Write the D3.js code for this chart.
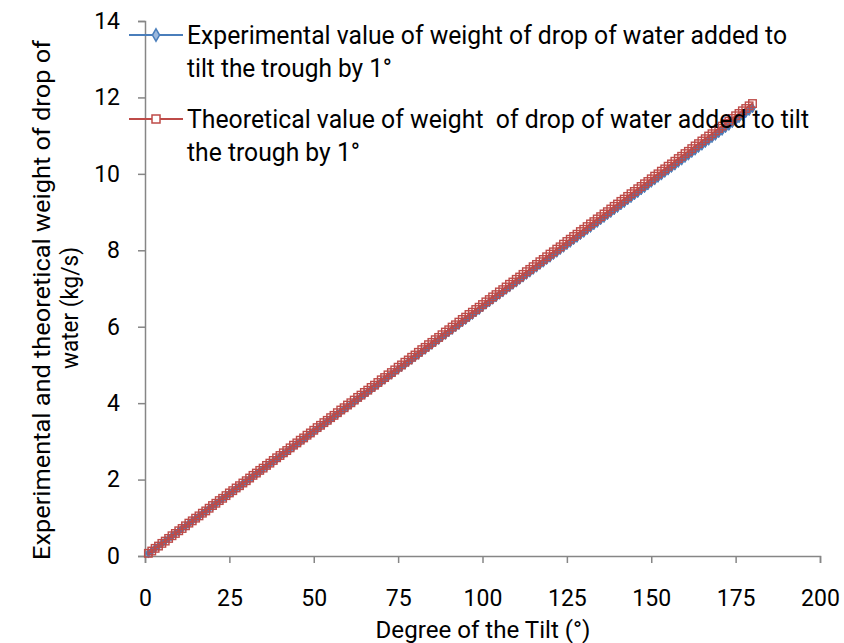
<!DOCTYPE html>
<html><head><meta charset="utf-8">
<script src="https://cdn.jsdelivr.net/npm/d3@7"></script>
<style>
html,body{margin:0;padding:0;background:#fff;}
svg{display:block;}
text{fill:#000;}
</style></head>
<body>
<svg id="chart" width="844" height="643"></svg>
<script>
// ---- data ----
const degrees = d3.range(1, 181); // tilt angles 1..180
const experimental = [
0.07,0.13,0.20,0.26,0.33,0.39,0.46,0.52,0.59,0.65,0.72,0.78,0.85,0.91,0.98,1.04,1.11,1.17,1.24,1.30,
1.37,1.43,1.50,1.56,1.63,1.69,1.76,1.82,1.89,1.95,2.02,2.08,2.15,2.21,2.28,2.34,2.41,2.47,2.54,2.60,
2.67,2.73,2.80,2.86,2.93,2.99,3.06,3.12,3.19,3.26,3.32,3.39,3.45,3.52,3.58,3.65,3.71,3.78,3.84,3.91,
3.97,4.04,4.10,4.17,4.23,4.30,4.36,4.43,4.49,4.56,4.62,4.69,4.75,4.82,4.88,4.95,5.01,5.08,5.14,5.21,
5.27,5.34,5.40,5.47,5.53,5.60,5.66,5.73,5.79,5.86,5.92,5.99,6.05,6.12,6.18,6.25,6.31,6.38,6.44,6.51,
6.58,6.64,6.71,6.77,6.84,6.90,6.97,7.03,7.10,7.16,7.23,7.29,7.36,7.42,7.49,7.55,7.62,7.68,7.75,7.81,
7.88,7.94,8.01,8.07,8.14,8.20,8.27,8.33,8.40,8.46,8.53,8.59,8.66,8.72,8.79,8.85,8.92,8.98,9.05,9.11,
9.18,9.24,9.31,9.37,9.44,9.50,9.57,9.63,9.70,9.77,9.83,9.90,9.96,10.03,10.09,10.16,10.22,10.29,10.35,10.42,
10.48,10.55,10.61,10.68,10.74,10.81,10.87,10.94,11.00,11.07,11.13,11.20,11.26,11.33,11.39,11.46,11.52,11.59,11.65,11.72
];
const theoretical = [
0.07,0.13,0.20,0.26,0.33,0.39,0.46,0.53,0.59,0.66,0.72,0.79,0.86,0.92,0.99,1.05,1.12,1.18,1.25,1.32,
1.38,1.45,1.51,1.58,1.65,1.71,1.78,1.84,1.91,1.97,2.04,2.11,2.17,2.24,2.30,2.37,2.43,2.50,2.57,2.63,
2.70,2.76,2.83,2.90,2.96,3.03,3.09,3.16,3.22,3.29,3.36,3.42,3.49,3.55,3.62,3.68,3.75,3.82,3.88,3.95,
4.01,4.08,4.15,4.21,4.28,4.34,4.41,4.47,4.54,4.61,4.67,4.74,4.80,4.87,4.94,5.00,5.07,5.13,5.20,5.26,
5.33,5.40,5.46,5.53,5.59,5.66,5.72,5.79,5.86,5.92,5.99,6.05,6.12,6.19,6.25,6.32,6.38,6.45,6.51,6.58,
6.65,6.71,6.78,6.84,6.91,6.97,7.04,7.11,7.17,7.24,7.30,7.37,7.44,7.50,7.57,7.63,7.70,7.76,7.83,7.90,
7.96,8.03,8.09,8.16,8.23,8.29,8.36,8.42,8.49,8.55,8.62,8.69,8.75,8.82,8.88,8.95,9.01,9.08,9.15,9.21,
9.28,9.34,9.41,9.48,9.54,9.61,9.67,9.74,9.80,9.87,9.94,10.00,10.07,10.13,10.20,10.26,10.33,10.40,10.46,10.53,
10.59,10.66,10.73,10.79,10.86,10.92,10.99,11.05,11.12,11.19,11.25,11.32,11.38,11.45,11.52,11.58,11.65,11.71,11.78,11.84
];
const xTicks = [0, 25, 50, 75, 100, 125, 150, 175, 200];
const yTicks = [0, 2, 4, 6, 8, 10, 12, 14];
const seriesNames = [
  ["Experimental value of weight of drop of water added to", "tilt the trough by 1°"],
  ["Theoretical value of weight  of drop of water added to tilt", "the trough by 1°"]
];
const xTitle = "Degree of the Tilt (°)";
const yTitle = ["Experimental and theoretical weight of drop of", "water (kg/s)"];

// ---- layout ----
const svg = d3.select("#chart");
const L = 145, R = 820, T = 21, B = 556;
const x = d3.scaleLinear().domain([0, 200]).range([L, R]);
const y = d3.scaleLinear().domain([0, 14]).range([B, T]);
const axisColor = "#868686";
const blue = "#4A7EBB", red = "#BE4B48";
const font = "Roboto, 'Liberation Sans', sans-serif";

function fit(sel, w) {
  sel.attr("textLength", w).attr("lengthAdjust", "spacingAndGlyphs");
}

// axes
const gx = svg.append("g").attr("transform", `translate(0,${B})`)
  .call(d3.axisBottom(x).tickValues(xTicks).tickSize(7).tickPadding(27).tickFormat(d3.format("d")));
const gy = svg.append("g").attr("transform", `translate(${L},0)`)
  .call(d3.axisLeft(y).tickValues(yTicks).tickSize(7).tickPadding(18).tickFormat(d3.format("d")));
[gx, gy].forEach(g => {
  g.select(".domain").attr("stroke", axisColor).attr("stroke-width", 1.5);
  g.selectAll(".tick line").attr("stroke", axisColor).attr("stroke-width", 1.5);
  g.selectAll(".tick text").attr("font-family", font).attr("font-size", 23).attr("fill", "#000");
});

// series
const line = d3.line().x((d, i) => x(degrees[i])).y(d => y(d));
const diamond = d3.symbol().type(d3.symbolDiamond).size(26);

svg.append("path").datum(experimental).attr("d", line)
  .attr("fill", "none").attr("stroke", blue).attr("stroke-width", 2.2);
svg.append("g").selectAll("path").data(experimental).join("path")
  .attr("d", diamond)
  .attr("transform", (d, i) => `translate(${x(degrees[i])},${y(d)})`)
  .attr("fill", blue).attr("stroke", blue).attr("stroke-width", 1);

svg.append("path").datum(theoretical).attr("d", line)
  .attr("fill", "none").attr("stroke", red).attr("stroke-width", 2);
const sq = 7.5;
svg.append("g").selectAll("rect").data(theoretical).join("rect")
  .attr("x", (d, i) => x(degrees[i]) - sq / 2)
  .attr("y", d => y(d) - sq / 2)
  .attr("width", sq).attr("height", sq)
  .attr("fill", "none").attr("stroke", red).attr("stroke-width", 1.4);

// legend
const legY = [35, 119];
const legColors = [blue, red];
const legWidths = [[600, 205], [622, 173]];
seriesNames.forEach((lines, k) => {
  const g = svg.append("g");
  g.append("line").attr("x1", 129).attr("x2", 183).attr("y1", legY[k]).attr("y2", legY[k])
    .attr("stroke", legColors[k]).attr("stroke-width", 2);
  if (k === 0) {
    g.append("path").attr("d", d3.symbol().type(d3.symbolDiamond).size(44))
      .attr("transform", `translate(156,${legY[k]})`).attr("fill", "#9DB9DD").attr("stroke", blue).attr("stroke-width", 1.5);
  } else {
    g.append("rect").attr("x", 152).attr("y", legY[k] - 4).attr("width", 8).attr("height", 8)
      .attr("fill", "#fff").attr("stroke", red).attr("stroke-width", 1.5);
  }
  const t1 = g.append("text").attr("x", 187).attr("y", legY[k] + 9).attr("font-family", font)
    .attr("font-size", 25).style("white-space", "pre").text(lines[0]);
  fit(t1, legWidths[k][0]);
  const t2 = g.append("text").attr("x", 187).attr("y", legY[k] + 42).attr("font-family", font)
    .attr("font-size", 25).text(lines[1]);
  fit(t2, legWidths[k][1]);
});

// axis titles
const xt = svg.append("text").attr("x", 483).attr("y", 638).attr("text-anchor", "middle")
  .attr("font-family", font).attr("font-size", 24).text(xTitle);
fit(xt, 215);
const yg = svg.append("g").attr("transform", "translate(0,300) rotate(-90)");
const yt1 = yg.append("text").attr("x", 0).attr("y", 50).attr("text-anchor", "middle")
  .attr("font-family", font).attr("font-size", 24).text(yTitle[0]);
fit(yt1, 520);
const yt2 = yg.append("text").attr("x", -8).attr("y", 78).attr("text-anchor", "middle")
  .attr("font-family", font).attr("font-size", 24).text(yTitle[1]);
fit(yt2, 122);
</script>
</body></html>
